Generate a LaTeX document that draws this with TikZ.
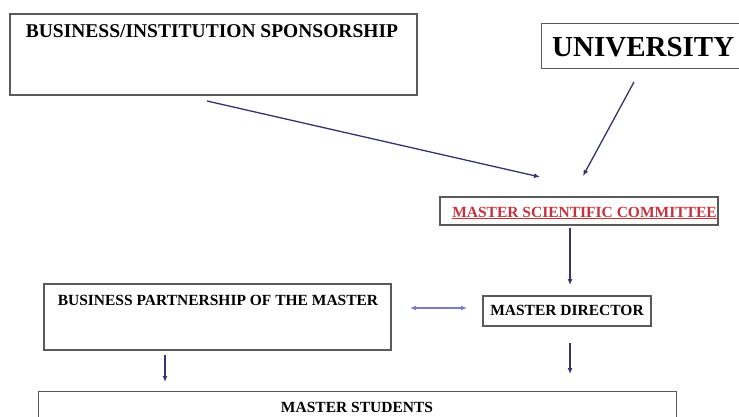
\documentclass[tikz,border=0pt]{standalone}
\usepackage{fontspec}
\setmainfont{Liberation Serif}
\usetikzlibrary{arrows.meta}
\definecolor{boxline}{HTML}{5A5A5A}
\definecolor{linkcol}{HTML}{34346E}
\definecolor{pairlink}{HTML}{7C7CC4}
\definecolor{committee}{HTML}{C8323C}
\begin{document}
\begin{tikzpicture}[x=1pt,y=-1pt,
  frame/.style={draw=boxline,line width=1.3pt,fill=white,inner sep=0pt},
  title/.style={inner sep=0pt,font=\bfseries\fontsize{15.5}{18}\selectfont},
  link/.style={draw=linkcol,line width=1.3pt,-{Latex[length=6pt,width=5pt]}},
  twoway/.style={draw=pairlink,line width=1.5pt,{Latex[length=6pt,width=5pt]}-{Latex[length=6pt,width=5pt]}}]
\useasboundingbox (0,0) rectangle (739,417);
\clip (0,0) rectangle (739,417);
\fill[white] (0,0) rectangle (739,417);

% boxes
\node[frame,minimum width=407pt,minimum height=81pt] (sponsor) at (213.5,54.5) {};
\node[title,font=\bfseries\fontsize{19.5}{22}\selectfont,anchor=base] (sponsortxt) at (212,38) {BUSINESS/INSTITUTION SPONSORSHIP};

\node[frame,minimum width=260pt,minimum height=45pt,anchor=north west] (univ) at (541,23) {};
\node[title,font=\bfseries\fontsize{29}{32}\selectfont,anchor=base west] (univtxt) at (552,57) {UNIVERSITY};

\node[frame,minimum width=278pt,minimum height=28pt] (committee) at (579,211) {};
\node[title,text=committee,anchor=base] (committeetxt) at (584.5,217) {\underline{MASTER SCIENTIFIC COMMITTEE}};

\node[frame,minimum width=168pt,minimum height=30pt] (director) at (567,311) {};
\node[title,anchor=base] (directortxt) at (567,315) {MASTER DIRECTOR};

\node[frame,minimum width=347pt,minimum height=66pt] (partner) at (217.5,317) {};
\node[title,anchor=base] (partnertxt) at (218,305) {BUSINESS PARTNERSHIP OF THE MASTER};

\node[frame,minimum width=638pt,minimum height=60pt,anchor=north west] (students) at (38,391) {};
\node[title,anchor=base] (studentstxt) at (357,412) {MASTER STUDENTS};

% connector end points
\coordinate (s1) at (207,101);
\coordinate (s2) at (540,177);
\coordinate (u1) at (634,82);
\coordinate (u2) at (583,176);
\coordinate (c1) at (570,228);
\coordinate (c2) at (570,285);
\coordinate (p1) at (410,308);
\coordinate (p2) at (467,308);
\coordinate (d1) at (570,343);
\coordinate (d2) at (570,374);
\coordinate (b1) at (165,355);
\coordinate (b2) at (165,382);

% connectors
\draw[link] (s1) -- (s2);
\draw[link] (u1) -- (u2);
\draw[link] (c1) -- (c2);
\draw[twoway] (p1) -- (p2);
\draw[link] (d1) -- (d2);
\draw[link] (b1) -- (b2);
\end{tikzpicture}
\end{document}
